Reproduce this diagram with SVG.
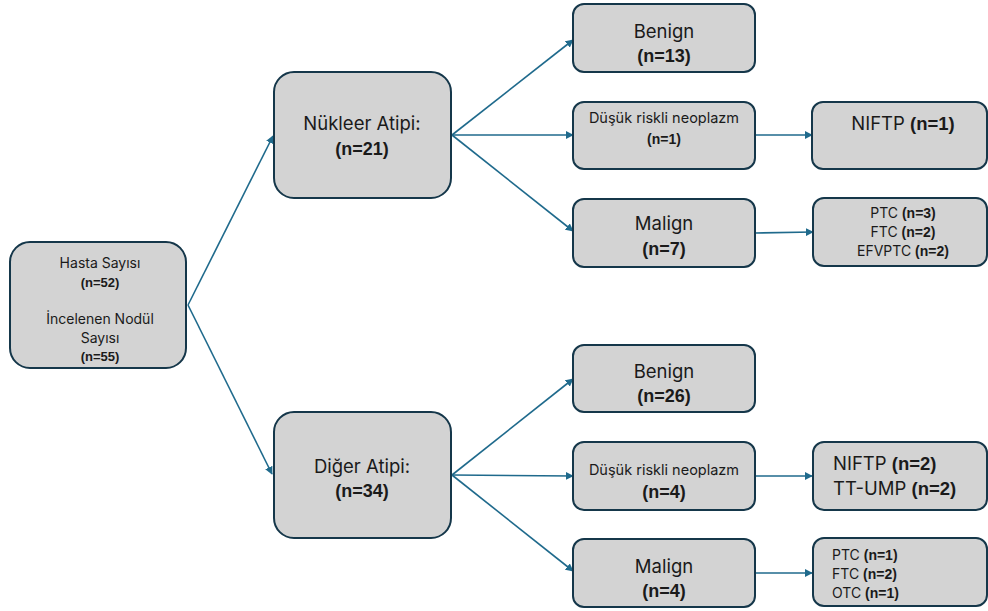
<svg xmlns="http://www.w3.org/2000/svg" width="988" height="611" viewBox="0 0 988 611">
<style>
.box{fill:#d3d3d3;stroke:#15374a;stroke-width:2}
.t{font-family:Inter,"Open Sans","Liberation Sans",sans-serif;fill:#1a1a1a}
.b{font-family:"Liberation Sans",Arial,sans-serif;font-weight:bold;fill:#1a1a1a}
.c{text-anchor:middle}
.conn line{stroke:#1f6a8c;stroke-width:1.6;marker-end:url(#ah)}
</style>
<defs>
<marker id="ah" viewBox="0 0 10 10" refX="9" refY="5" markerWidth="5" markerHeight="5" orient="auto" markerUnits="strokeWidth">
<path d="M0,0 L10,5 L0,10 z" fill="#1f6a8c"/>
</marker>
</defs>
<g id="connectors" class="conn">
<line x1="188" y1="305" x2="273" y2="136"/>
<line x1="188" y1="305" x2="272" y2="474"/>
<line x1="452" y1="135" x2="573" y2="40"/>
<line x1="452" y1="135" x2="573" y2="135"/>
<line x1="452" y1="135" x2="573" y2="231"/>
<line x1="452" y1="475" x2="573" y2="379"/>
<line x1="452" y1="475" x2="573" y2="476"/>
<line x1="452" y1="475" x2="573" y2="571"/>
<line x1="755" y1="135" x2="812" y2="135"/>
<line x1="755" y1="233" x2="813" y2="232"/>
<line x1="755" y1="476" x2="812" y2="476"/>
<line x1="755" y1="573" x2="812" y2="573"/>
</g>
<g id="root">
<rect class="box" x="10" y="242" width="176" height="126" rx="20"/>
<text class="t c" x="100" y="268" font-size="14">Hasta Sayısı</text>
<text class="b c" x="100" y="287" font-size="13">(n=52)</text>
<text class="t c" x="100" y="324" font-size="14">İncelenen Nodül</text>
<text class="t c" x="100" y="343" font-size="14">Sayısı</text>
<text class="b c" x="100" y="361" font-size="13">(n=55)</text>
</g>
<g id="nukleer">
<rect class="box" x="274" y="72" width="177" height="126" rx="20"/>
<text class="t c" x="362" y="130" font-size="18.5">Nükleer Atipi:</text>
<text class="b c" x="362" y="155" font-size="18">(n=21)</text>
</g>
<g id="diger">
<rect class="box" x="274" y="412" width="177" height="126" rx="20"/>
<text class="t c" x="362" y="473" font-size="18.5">Diğer Atipi:</text>
<text class="b c" x="362" y="497" font-size="18">(n=34)</text>
</g>
<g id="benign1">
<rect class="box" x="573" y="4" width="182" height="68" rx="11"/>
<text class="t c" x="664" y="38" font-size="18.5">Benign</text>
<text class="b c" x="664" y="62" font-size="18">(n=13)</text>
</g>
<g id="dusuk1">
<rect class="box" x="573" y="102" width="182" height="67" rx="11"/>
<text class="t c" x="664" y="123" font-size="14.5">Düşük riskli neoplazm</text>
<text class="b c" x="664" y="144" font-size="14">(n=1)</text>
</g>
<g id="malign1">
<rect class="box" x="573" y="199" width="182" height="68" rx="11"/>
<text class="t c" x="664" y="230" font-size="18.5">Malign</text>
<text class="b c" x="664" y="255" font-size="18">(n=7)</text>
</g>
<g id="niftp1">
<rect class="box" x="812" y="102" width="175" height="67" rx="11"/>
<text class="c" x="903" y="130" font-size="18.5"><tspan class="t">NIFTP </tspan><tspan class="b">(n=1)</tspan></text>
</g>
<g id="ptc1">
<rect class="box" x="813" y="198" width="174" height="68" rx="11"/>
<text class="c" x="903" y="218" font-size="14"><tspan class="t">PTC </tspan><tspan class="b">(n=3)</tspan></text>
<text class="c" x="903" y="237" font-size="14"><tspan class="t">FTC </tspan><tspan class="b">(n=2)</tspan></text>
<text class="c" x="903" y="256" font-size="14"><tspan class="t">EFVPTC </tspan><tspan class="b">(n=2)</tspan></text>
</g>
<g id="benign2">
<rect class="box" x="573" y="345" width="182" height="67" rx="11"/>
<text class="t c" x="664" y="378" font-size="18.5">Benign</text>
<text class="b c" x="664" y="402" font-size="18">(n=26)</text>
</g>
<g id="dusuk2">
<rect class="box" x="573" y="442" width="182" height="68" rx="11"/>
<text class="t c" x="664" y="475" font-size="14.5">Düşük riskli neoplazm</text>
<text class="b c" x="664" y="498" font-size="18">(n=4)</text>
</g>
<g id="malign2">
<rect class="box" x="573" y="539" width="182" height="68" rx="11"/>
<text class="t c" x="664" y="573" font-size="18.5">Malign</text>
<text class="b c" x="664" y="597" font-size="18">(n=4)</text>
</g>
<g id="niftp2">
<rect class="box" x="813" y="442" width="174" height="68" rx="11"/>
<text x="833" y="470" font-size="18.5"><tspan class="t">NIFTP </tspan><tspan class="b">(n=2)</tspan></text>
<text x="833" y="495" font-size="18.5"><tspan class="t">TT-UMP </tspan><tspan class="b">(n=2)</tspan></text>
</g>
<g id="ptc2">
<rect class="box" x="813" y="538" width="174" height="68" rx="11"/>
<text x="832" y="560" font-size="14"><tspan class="t">PTC </tspan><tspan class="b">(n=1)</tspan></text>
<text x="832" y="579" font-size="14"><tspan class="t">FTC </tspan><tspan class="b">(n=2)</tspan></text>
<text x="832" y="598" font-size="14"><tspan class="t">OTC </tspan><tspan class="b">(n=1)</tspan></text>
</g>
</svg>
